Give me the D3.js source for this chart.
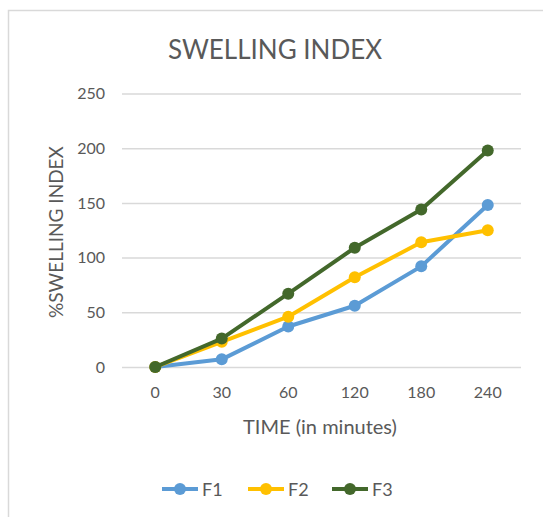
<!DOCTYPE html>
<html><head><meta charset="utf-8">
<script src="https://cdn.jsdelivr.net/npm/d3@7"></script>
<style>body{margin:0;background:#fff;} text{font-family:Lato,"Open Sans",sans-serif;}</style>
</head><body>
<svg id="c" width="543" height="517"></svg>
<script>
const categories = ["0","30","60","120","180","240"];
const seriesNames = ["F1","F2","F3"];
const F1 = [0, 7, 37, 56, 92, 148];
const F2 = [0, 23, 46, 82, 114, 125];
const F3 = [0, 26, 67, 109, 144, 198];
const colors = ["#5B9BD5","#FFC000","#43682B"];
const yTicks = [0,50,100,150,200,250];

const svg = d3.select("#c");
svg.append("rect").attr("x",8.5).attr("y",10.5).attr("width",560).attr("height",560)
  .attr("fill","#fff").attr("stroke","#d9d9d9").attr("stroke-width",1.5);

const x = d3.scaleBand().domain(categories).range([122,521]);
const y = d3.scaleLinear().domain([0,250]).range([367,93.5]);

svg.append("text").attr("x",275).attr("y",59).attr("text-anchor","middle")
  .attr("font-size",26).attr("fill","#595959").text("SWELLING INDEX");

const gy = svg.append("g").attr("transform","translate(122,0)")
  .call(d3.axisLeft(y).tickValues(yTicks).tickSize(-399).tickPadding(17));
gy.select(".domain").remove();
gy.selectAll(".tick line").attr("stroke","#d9d9d9").attr("stroke-width",1.5);
gy.selectAll(".tick text").attr("font-size",16).attr("fill","#595959").attr("font-family","Lato, sans-serif");

const gx = svg.append("g").attr("transform","translate(0,367)")
  .call(d3.axisBottom(x).tickSize(0).tickPadding(20));
gx.select(".domain").remove();
gx.selectAll(".tick text").attr("font-size",16).attr("fill","#595959").attr("font-family","Lato, sans-serif");

svg.append("text").attr("x",320).attr("y",434).attr("text-anchor","middle")
  .attr("font-size",20).attr("fill","#595959").text("TIME (in minutes)");
svg.append("text").attr("transform","translate(63,232) rotate(-90)").attr("text-anchor","middle")
  .attr("font-size",19).attr("fill","#595959").text("%SWELLING INDEX");

const data = [F1,F2,F3];
const line = d3.line().x((d,i)=>x(categories[i])+x.bandwidth()/2).y(d=>y(d));
data.forEach((vals,si)=>{
  svg.append("path").datum(vals).attr("d",line).attr("fill","none")
    .attr("stroke",colors[si]).attr("stroke-width",4).attr("stroke-linejoin","round");
  svg.selectAll(null).data(vals).enter().append("circle")
    .attr("cx",(d,i)=>x(categories[i])+x.bandwidth()/2).attr("cy",d=>y(d))
    .attr("r",6).attr("fill",colors[si]);
});

const legX = [162,248,332];
seriesNames.forEach((n,i)=>{
  const g = svg.append("g").attr("transform",`translate(${legX[i]},489)`);
  g.append("line").attr("x1",0).attr("x2",36).attr("stroke",colors[i]).attr("stroke-width",4);
  g.append("circle").attr("cx",18).attr("r",6).attr("fill",colors[i]);
  g.append("text").attr("x",40).attr("y",6.5).attr("font-size",18).attr("fill","#595959").text(n);
});
</script>
</body></html>
